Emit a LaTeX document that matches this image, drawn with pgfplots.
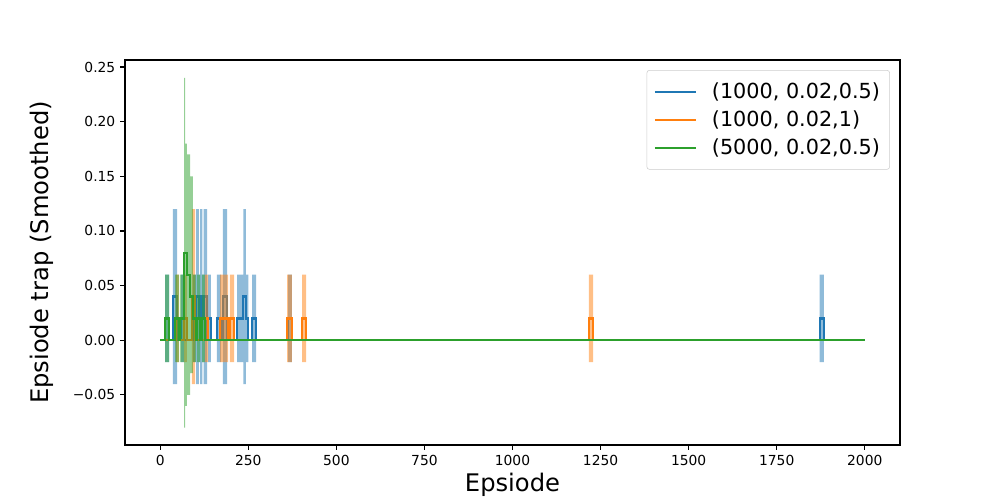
\documentclass[border=0pt]{standalone}
\usepackage{fontspec}
\setmainfont{DejaVu Sans}
\usepackage{pgfplots}
\usepackage{pgfplotstable}
\pgfplotsset{compat=1.18}
\definecolor{tabblue}{HTML}{1F77B4}
\definecolor{taborange}{HTML}{FF7F0E}
\definecolor{tabgreen}{HTML}{2CA02C}

\pgfplotstableread{
x m lo hi
0 0 0 0
14 0 0 0
14 0.02 -0.02 0.06
25 0.02 -0.02 0.06
25 0 0 0
36 0 0 0
36 0.04 -0.04 0.12
48 0.04 -0.04 0.12
48 0 0 0
59 0 0 0
59 0.02 -0.02 0.06
68 0.02 -0.02 0.06
68 0 0 0
93 0 0 0
93 0.02 -0.02 0.06
102 0.02 -0.02 0.06
102 0.04 -0.04 0.12
110 0.04 -0.04 0.12
110 0.02 -0.02 0.06
113 0.02 -0.02 0.06
113 0.04 -0.04 0.12
120 0.04 -0.04 0.12
120 0.02 -0.02 0.06
123 0.02 -0.02 0.06
123 0.04 -0.04 0.12
133 0.04 -0.04 0.12
133 0 0 0
136 0 0 0
136 0.02 -0.02 0.06
144 0.02 -0.02 0.06
144 0 0 0
161 0 0 0
161 0.02 -0.02 0.06
173 0.02 -0.02 0.06
173 0 0 0
178 0 0 0
178 0.04 -0.04 0.12
190 0.04 -0.04 0.12
190 0 0 0
218 0 0 0
218 0.02 -0.02 0.06
236 0.02 -0.02 0.06
236 0.04 -0.04 0.12
243 0.04 -0.04 0.12
243 0.02 -0.02 0.06
250 0.02 -0.02 0.06
250 0 0 0
261 0 0 0
261 0.02 -0.02 0.06
272 0.02 -0.02 0.06
272 0 0 0
363 0 0 0
363 0.02 -0.02 0.06
374 0.02 -0.02 0.06
374 0 0 0
1872 0 0 0
1872 0.02 -0.02 0.06
1884 0.02 -0.02 0.06
1884 0 0 0
2000 0 0 0
}\blueT

\pgfplotstableread{
x m lo hi
0 0 0 0
45 0 0 0
45 0.02 -0.02 0.06
53 0.02 -0.02 0.06
53 0 0 0
68 0 0 0
68 0.02 -0.02 0.06
76 0.02 -0.02 0.06
76 0 0 0
90 0 0 0
90 0.04 -0.04 0.12
99 0.04 -0.04 0.12
99 0 0 0
127 0 0 0
127 0.02 -0.02 0.06
136 0.02 -0.02 0.06
136 0 0 0
170 0 0 0
170 0.02 -0.02 0.06
193 0.02 -0.02 0.06
193 0 0 0
198 0 0 0
198 0.02 -0.02 0.06
210 0.02 -0.02 0.06
210 0 0 0
360 0 0 0
360 0.02 -0.02 0.06
374 0.02 -0.02 0.06
374 0 0 0
403 0 0 0
403 0.02 -0.02 0.06
414 0.02 -0.02 0.06
414 0 0 0
1217 0 0 0
1217 0.02 -0.02 0.06
1229 0.02 -0.02 0.06
1229 0 0 0
2000 0 0 0
}\orangeT

\pgfplotstableread{
x m lo hi
0 0 0 0
14 0 0 0
14 0.02 -0.02 0.06
25 0.02 -0.02 0.06
25 0 0 0
42 0 0 0
42 0.02 -0.02 0.06
53 0.02 -0.02 0.06
53 0 0 0
56 0 0 0
56 0.02 -0.02 0.06
68 0.02 -0.02 0.06
68 0.08 -0.08 0.24
71 0.08 -0.08 0.24
71 0.08 -0.06 0.18
76 0.08 -0.06 0.18
76 0.06 -0.05 0.17
85 0.06 -0.05 0.17
85 0.04 -0.03 0.15
93 0.04 -0.03 0.15
93 0.02 -0.02 0.06
102 0.02 -0.02 0.06
102 0 0 0
105 0 0 0
105 0.02 -0.02 0.06
114 0.02 -0.02 0.06
114 0 0 0
118 0 0 0
118 0.02 -0.02 0.06
127 0.02 -0.02 0.06
127 0 0 0
2000 0 0 0
}\greenT

\begin{document}
\begin{tikzpicture}
\path[use as bounding box] (-1.25in,-0.55in) rectangle (8.75in,4.45in);
\begin{axis}[
  at={(0,0)}, anchor=south west,
  scale only axis, width=7.75in, height=3.85in,
  xmin=-100, xmax=2100, ymin=-0.0958, ymax=0.2564,
  axis line style={line width=0.8pt},
  tick align=outside, xtick pos=bottom, ytick pos=left,
  major tick length=3.5pt,
  every tick/.style={black, line width=0.8pt},
  xtick={0,250,500,750,1000,1250,1500,1750,2000},
  xticklabels={0,250,500,750,1000,1250,1500,1750,2000},
  ytick={-0.05,0,0.05,0.1,0.15,0.2,0.25},
  yticklabels={−0.05,0.00,0.05,0.10,0.15,0.20,0.25},
  ticklabel style={font=\fontsize{10}{12}\selectfont},
  xlabel={Epsiode}, ylabel={Epsiode trap (Smoothed)},
  label style={font=\fontsize{17.5}{20}\selectfont},
  xlabel style={at={(axis description cs:0.5,-0.104)}, anchor=center},
  ylabel style={at={(axis description cs:-0.107,0.5)}, anchor=center},
  legend style={at={(axis description cs:0.987,0.974)}, anchor=north east,
    draw=black!20, rounded corners=2pt, fill=white, fill opacity=0.8, text opacity=1,
    font=\fontsize{15}{18}\selectfont, row sep=3.5pt, inner xsep=5pt, inner ysep=7pt},
  legend cell align=left,
  legend image code/.code={\draw[#1, line width=1.5pt] (0cm,0cm) -- (1.05cm,0cm);},
]
% blue
\addplot[tabblue, line width=1.6pt] table[x=x,y=m] {\blueT};
\addlegendentry{\hspace{0.12in}(1000, 0.02,0.5)}
\addplot[fill=tabblue, fill opacity=0.5, draw=none, forget plot] table[x=x,y=hi] {\blueT} \closedcycle;
\addplot[fill=tabblue, fill opacity=0.5, draw=none, forget plot] table[x=x,y=lo] {\blueT} \closedcycle;
% orange
\addplot[taborange, line width=1.6pt] table[x=x,y=m] {\orangeT};
\addlegendentry{\hspace{0.12in}(1000, 0.02,1)}
\addplot[fill=taborange, fill opacity=0.5, draw=none, forget plot] table[x=x,y=hi] {\orangeT} \closedcycle;
\addplot[fill=taborange, fill opacity=0.5, draw=none, forget plot] table[x=x,y=lo] {\orangeT} \closedcycle;
% green
\addplot[tabgreen, line width=1.6pt] table[x=x,y=m] {\greenT};
\addlegendentry{\hspace{0.12in}(5000, 0.02,0.5)}
\addplot[fill=tabgreen, fill opacity=0.5, draw=none, forget plot] table[x=x,y=hi] {\greenT} \closedcycle;
\addplot[fill=tabgreen, fill opacity=0.5, draw=none, forget plot] table[x=x,y=lo] {\greenT} \closedcycle;
\end{axis}
\end{tikzpicture}
\end{document}
